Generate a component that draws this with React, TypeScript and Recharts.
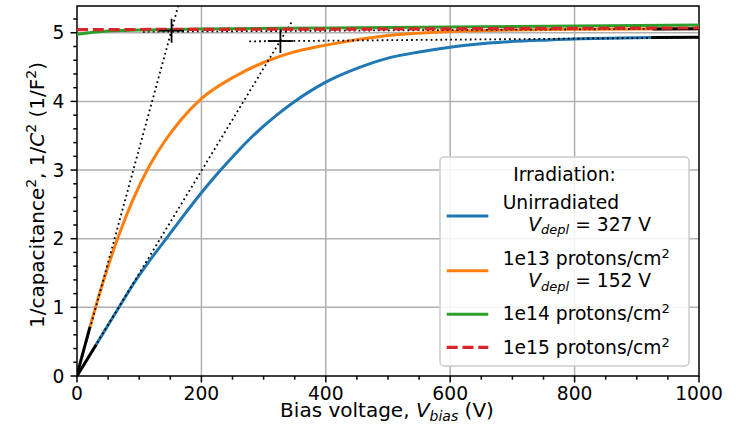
import React from 'react';
import {
  ComposedChart,
  Line,
  Scatter,
  XAxis,
  YAxis,
  CartesianGrid,
  ReferenceArea,
  Legend,
} from 'recharts';

// ---------- data ----------
const xTicks = [0, 50, 100, 150, 200, 250, 300, 350, 400, 450, 500, 550, 600, 650, 700, 750, 800, 850, 900, 950, 1000];
const xMajor = [0, 200, 400, 600, 800, 1000];
const yTicks = [0, 0.2, 0.4, 0.6, 0.8, 1, 1.2, 1.4, 1.6, 1.8, 2, 2.2, 2.4, 2.6, 2.8, 3, 3.2, 3.4, 3.6, 3.8, 4, 4.2, 4.4, 4.6, 4.8, 5, 5.2];
const yMajor = [0, 1, 2, 3, 4, 5];
const xGrid = [200, 400, 600, 800];
const yGrid = [1, 2, 3, 4, 5];
const Y_MAX = 5.39;

const unirradiated = [
  { x: 31, y: 0.46 }, { x: 68, y: 1.01 }, { x: 95, y: 1.4 }, { x: 120, y: 1.72 },
  { x: 146, y: 2.03 }, { x: 175, y: 2.38 }, { x: 200, y: 2.67 }, { x: 226, y: 2.95 },
  { x: 250, y: 3.19 }, { x: 274, y: 3.42 }, { x: 300, y: 3.64 }, { x: 325, y: 3.83 },
  { x: 350, y: 4.0 }, { x: 375, y: 4.15 }, { x: 400, y: 4.28 }, { x: 450, y: 4.48 },
  { x: 500, y: 4.63 }, { x: 550, y: 4.72 }, { x: 600, y: 4.79 }, { x: 662, y: 4.85 },
  { x: 758, y: 4.895 }, { x: 833, y: 4.915 }, { x: 923, y: 4.93 },
];
const p1e13 = [
  { x: 21, y: 0.72 }, { x: 31, y: 1.04 }, { x: 42, y: 1.37 }, { x: 66, y: 2.02 },
  { x: 90, y: 2.57 }, { x: 117, y: 3.07 }, { x: 141, y: 3.42 }, { x: 167, y: 3.73 },
  { x: 200, y: 4.04 }, { x: 255, y: 4.37 }, { x: 309, y: 4.6 }, { x: 341, y: 4.7 },
  { x: 400, y: 4.82 }, { x: 500, y: 4.96 }, { x: 600, y: 5.02 }, { x: 700, y: 5.04 },
  { x: 800, y: 5.05 }, { x: 900, y: 5.055 }, { x: 1000, y: 5.06 },
];
const p1e14 = [
  { x: 0, y: 4.98 }, { x: 20, y: 5.0 }, { x: 50, y: 5.025 }, { x: 100, y: 5.04 },
  { x: 200, y: 5.055 }, { x: 400, y: 5.07 }, { x: 600, y: 5.085 }, { x: 800, y: 5.1 },
  { x: 1000, y: 5.115 },
];
const p1e15 = [
  { x: 0, y: 5.045 }, { x: 200, y: 5.05 }, { x: 500, y: 5.055 }, { x: 800, y: 5.065 },
  { x: 1000, y: 5.07 },
];
// fit regions (black) and fit lines (dotted)
const fitStartUnirr = [{ x: 0, y: 0 }, { x: 31, y: 0.46 }];
const fitStart1e13 = [{ x: 0, y: 0.02 }, { x: 21, y: 0.72 }];
const fitEndUnirr = [{ x: 923, y: 4.93 }, { x: 1000, y: 4.935 }];
const fitEnd1e13 = [{ x: 925, y: 5.056 }, { x: 1000, y: 5.06 }];
const slopeUnirr = [{ x: 0, y: 0 }, { x: 346, y: 5.17 }];
const slope1e13 = [{ x: 0, y: 0 }, { x: 166, y: 5.5 }];
const plateauUnirr = [{ x: 277, y: 4.875 }, { x: 1000, y: 4.93 }];
const plateau1e13 = [{ x: 106, y: 5.015 }, { x: 1000, y: 5.06 }];
const depletion = [{ x: 152, y: 5.03 }, { x: 327, y: 4.88 }];

// ---------- styles ----------
const FONT = 'DejaVu Sans, sans-serif';
const FS = 18.7;
const LFS = 20;
const BLUE = '#1f77b4';
const ORANGE = '#ff7f0e';
const GREEN = '#2ca02c';
const RED = '#d62728';

const isIn = (arr: number[], v: number) => arr.some((a) => Math.abs(a - v) < 1e-9);

const XTick = (props: any) => {
  const { x, y, payload } = props;
  const major = isIn(xMajor, payload.value);
  return (
    <g>
      <line x1={x} x2={x} y1={y} y2={y + (major ? 6.5 : 3.7)} stroke="#000" strokeWidth={1.5} />
      {major && (
        <text x={x} y={y + 24} textAnchor="middle" fontFamily={FONT} fontSize={FS} fill="#000">
          {payload.value}
        </text>
      )}
    </g>
  );
};

const YTick = (props: any) => {
  const { x, y, payload } = props;
  const major = isIn(yMajor, payload.value);
  return (
    <g>
      <line x1={x} x2={x - (major ? 6.5 : 3.7)} y1={y} y2={y} stroke="#000" strokeWidth={1.5} />
      {major && (
        <text x={x - 12.5} y={y + 6.6} textAnchor="end" fontFamily={FONT} fontSize={FS} fill="#000">
          {Math.round(payload.value)}
        </text>
      )}
    </g>
  );
};

const XLabel = () => (
  <text x={387} y={416.5} textAnchor="middle" fontFamily={FONT} fontSize={LFS} fill="#000">
    Bias voltage,{' '}
    <tspan fontStyle="italic">V</tspan>
    <tspan fontStyle="italic" fontSize={14} dy={4}>bias</tspan>
    <tspan dy={-4}> (V)</tspan>
  </text>
);

const YLabel = () => (
  <text
    transform="translate(43.5,195) rotate(-90)"
    textAnchor="middle"
    fontFamily={FONT}
    fontSize={LFS}
    fill="#000"
  >
    1/capacitance
    <tspan fontSize={14} dy={-7.5}>2</tspan>
    <tspan dy={7.5}>, 1/</tspan>
    <tspan fontStyle="italic">C</tspan>
    <tspan fontSize={14} dy={-7.5}>2</tspan>
    <tspan dy={7.5}> (1/F</tspan>
    <tspan fontSize={14} dy={-7.5}>2</tspan>
    <tspan dy={7.5}>)</tspan>
  </text>
);

const Cross = (props: any) => {
  const { cx, cy } = props;
  if (cx == null || cy == null) return null;
  return (
    <g>
      <line x1={cx - 12.5} x2={cx + 12.5} y1={cy} y2={cy} stroke="#000" strokeWidth={1.8} />
      <line x1={cx} x2={cx} y1={cy - 12} y2={cy + 12} stroke="#000" strokeWidth={1.8} />
    </g>
  );
};

const Sup = ({ children }: any) => (
  <tspan fontSize={13} dy={-7}>{children}</tspan>
);

const Vdepl = ({ x, y, value }: any) => (
  <text x={x} y={y} fontFamily={FONT} fontSize={FS} fill="#000">
    <tspan fontStyle="italic">V</tspan>
    <tspan fontStyle="italic" fontSize={13} dy={3.5}>depl</tspan>
    <tspan dy={-3.5}>{` = ${value} V`}</tspan>
  </text>
);

const LegendBox = () => (
  <svg width={251} height={211} style={{ display: 'block' }}>
    <rect x={1} y={1} width={249} height={209} rx={4} ry={4} fill="rgba(255,255,255,0.85)" stroke="#cccccc" strokeWidth={1.5} />
    <text x={125.5} y={24.7} textAnchor="middle" fontFamily={FONT} fontSize={FS} fill="#000">Irradiation:</text>

    <line x1={7.7} x2={49.3} y1={60} y2={60} stroke={BLUE} strokeWidth={3} />
    <text x={63.7} y={52.6} fontFamily={FONT} fontSize={FS} fill="#000">Unirradiated</text>
    <Vdepl x={89.3} y={74.7} value={327} />

    <line x1={7.7} x2={49.3} y1={114.7} y2={114.7} stroke={ORANGE} strokeWidth={3} />
    <text x={63.7} y={109.3} fontFamily={FONT} fontSize={FS} fill="#000">
      1e13 protons/cm<Sup>2</Sup>
    </text>
    <Vdepl x={89.3} y={131.3} value={152} />

    <line x1={7.7} x2={49.3} y1={158.3} y2={158.3} stroke={GREEN} strokeWidth={3} />
    <text x={63.7} y={164.3} fontFamily={FONT} fontSize={FS} fill="#000">
      1e14 protons/cm<Sup>2</Sup>
    </text>

    <line x1={7.7} x2={49.3} y1={191.3} y2={191.3} stroke={RED} strokeWidth={3.2} strokeDasharray="11 4.8" />
    <text x={63.7} y={197.6} fontFamily={FONT} fontSize={FS} fill="#000">
      1e15 protons/cm<Sup>2</Sup>
    </text>
  </svg>
);

const dotted = { stroke: '#000', strokeWidth: 1.8, strokeDasharray: '1.8 3.1' };

export default function App() {
  return (
    <div style={{ position: 'absolute', left: 0, top: 0, width: 739, height: 434, background: '#fff' }}>
      <ComposedChart width={739} height={434} margin={{ top: 6, right: 40, bottom: 0, left: 0 }}>
        <CartesianGrid
          horizontalValues={yGrid}
          verticalValues={xGrid}
          stroke="#b0b0b0"
          strokeWidth={1.5}
          strokeDasharray=""
        />
        <XAxis
          type="number"
          dataKey="x"
          domain={[0, 1000]}
          ticks={xTicks}
          interval={0}
          height={58}
          tickSize={0}
          tickMargin={0}
          tickLine={false}
          axisLine={false}
          tick={XTick}
          label={XLabel}
          allowDataOverflow
        />
        <YAxis
          type="number"
          dataKey="y"
          domain={[0, Y_MAX]}
          ticks={yTicks}
          interval={0}
          width={77}
          tickSize={0}
          tickMargin={0}
          tickLine={false}
          axisLine={false}
          tick={YTick}
          label={YLabel}
          allowDataOverflow
        />
        <Line data={unirradiated} dataKey="y" type="monotone" stroke={BLUE} strokeWidth={3} dot={false} activeDot={false} isAnimationActive={false} legendType="none" />
        <Line data={p1e13} dataKey="y" type="monotone" stroke={ORANGE} strokeWidth={3} dot={false} activeDot={false} isAnimationActive={false} legendType="none" />
        <Line data={slopeUnirr} dataKey="y" type="linear" {...dotted} dot={false} activeDot={false} isAnimationActive={false} legendType="none" />
        <Line data={slope1e13} dataKey="y" type="linear" {...dotted} dot={false} activeDot={false} isAnimationActive={false} legendType="none" />
        <Line data={plateauUnirr} dataKey="y" type="linear" {...dotted} dot={false} activeDot={false} isAnimationActive={false} legendType="none" />
        <Line data={plateau1e13} dataKey="y" type="linear" {...dotted} dot={false} activeDot={false} isAnimationActive={false} legendType="none" />
        <Line data={fitStartUnirr} dataKey="y" type="linear" stroke="#000" strokeWidth={3} dot={false} activeDot={false} isAnimationActive={false} legendType="none" />
        <Line data={fitStart1e13} dataKey="y" type="linear" stroke="#000" strokeWidth={3} dot={false} activeDot={false} isAnimationActive={false} legendType="none" />
        <Line data={fitEndUnirr} dataKey="y" type="linear" stroke="#000" strokeWidth={3} dot={false} activeDot={false} isAnimationActive={false} legendType="none" />
        <Line data={fitEnd1e13} dataKey="y" type="linear" stroke="#000" strokeWidth={3} dot={false} activeDot={false} isAnimationActive={false} legendType="none" />
        <Line data={p1e14} dataKey="y" type="monotone" stroke={GREEN} strokeWidth={3} dot={false} activeDot={false} isAnimationActive={false} legendType="none" />
        <Line data={p1e15} dataKey="y" type="monotone" stroke={RED} strokeWidth={3.2} strokeDasharray="11 4.8" dot={false} activeDot={false} isAnimationActive={false} legendType="none" />
        <Scatter data={depletion} dataKey="y" shape={Cross} isAnimationActive={false} legendType="none" />
        <ReferenceArea x1={0} x2={1000} y1={0} y2={Y_MAX} fill="none" fillOpacity={0} stroke="#000" strokeWidth={1.5} ifOverflow="visible" />
        <Legend
          layout="vertical"
          align="center"
          verticalAlign="middle"
          content={LegendBox}
          wrapperStyle={{ position: 'absolute', left: 439, top: 156, width: 251, height: 211 }}
        />
      </ComposedChart>
    </div>
  );
}
